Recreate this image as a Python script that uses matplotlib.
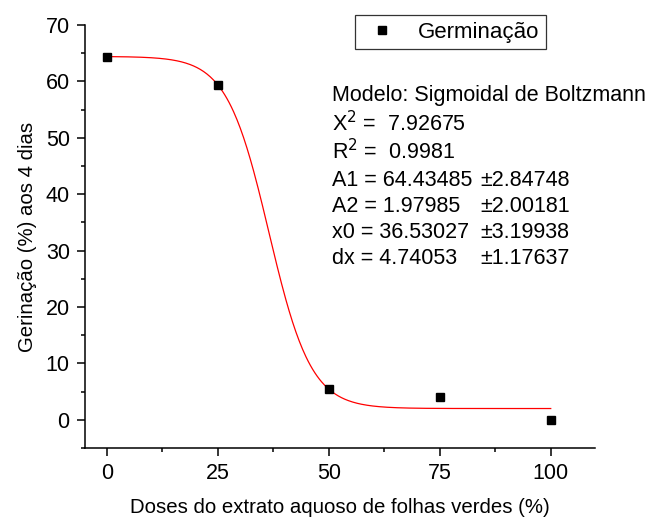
import numpy as np
import matplotlib
matplotlib.use("Agg")
import matplotlib.pyplot as plt
from matplotlib.ticker import MultipleLocator

plt.rcParams['font.family'] = ['Liberation Sans', 'DejaVu Sans']

doses = [0, 25, 50, 75, 100]
germinacao = [64.4, 59.4, 5.4, 4.0, 0.0]

# Boltzmann fit parameters shown on the chart
A1, A2, x0, dx = 64.43485, 1.97985, 36.53027, 4.74053
x_fit = np.linspace(0, 100, 400)
y_fit = A2 + (A1 - A2) / (1 + np.exp((x_fit - x0) / dx))

fig = plt.figure(figsize=(6.49, 5.22), dpi=100)
ax = fig.add_axes([0.131, 0.142, 0.786, 0.810])

ax.plot(x_fit, y_fit, color='red', lw=0.9, zorder=2)
ax.plot(doses, germinacao, 's', color='black', markersize=6, zorder=3,
        label='Germinação')

ax.set_xlim(-4.9, 110)
ax.set_ylim(-5, 70)
ax.xaxis.set_major_locator(MultipleLocator(25))
ax.xaxis.set_minor_locator(MultipleLocator(12.5))
ax.yaxis.set_major_locator(MultipleLocator(10))
ax.yaxis.set_minor_locator(MultipleLocator(5))
ax.set_yticks([0, 10, 20, 30, 40, 50, 60, 70])
ax.spines['top'].set_visible(False)
ax.spines['right'].set_visible(False)
for s in ['left', 'bottom']:
    ax.spines[s].set_linewidth(1.1)
ax.tick_params(which='major', direction='out', length=6, width=1.1, labelsize=15.5, pad=5)
ax.tick_params(which='minor', direction='out', length=3, width=1.1)

ax.set_xlabel('Doses do extrato aquoso de folhas verdes (%)', fontsize=14.7, labelpad=10)
ax.set_ylabel('Gerinação (%) aos 4 dias', fontsize=14.7, labelpad=6)

leg = ax.legend(loc='upper left', bbox_to_anchor=(355/649, 1 - 15/522), bbox_transform=fig.transFigure,
                fontsize=16, frameon=True, fancybox=False, edgecolor='black',
                handlelength=1.8, handletextpad=0.75, borderpad=0.3, borderaxespad=0,
                markerscale=0.9)
leg.get_frame().set_linewidth(0.9)

lines = [
    ('Modelo: Sigmoidal de Boltzmann', None),
    ('X$^{2}$ =  7.92675', None),
    ('R$^{2}$ =  0.9981', None),
    ('A1 = 64.43485', '±2.84748'),
    ('A2 = 1.97985', '±2.00181'),
    ('x0 = 36.53027', '±3.19938'),
    ('dx = 4.74053', '±1.17637'),
]
ys = [96, 124, 152, 180, 207, 233, 259]
for (a, b), yp in zip(lines, ys):
    fig.text(332/649, 1 - yp/522, a, fontsize=15.5, va='center', ha='left')
    if b:
        fig.text(480/649, 1 - yp/522, b, fontsize=15.5, va='center', ha='left')

fig.savefig('out.png', dpi=100)
